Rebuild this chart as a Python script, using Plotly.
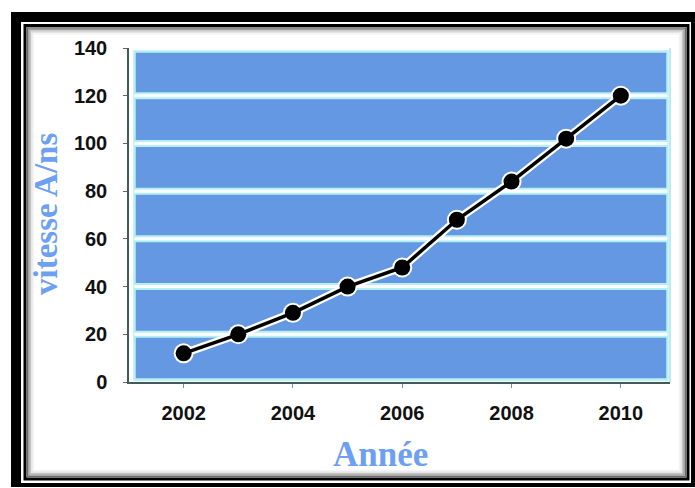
import plotly.graph_objects as go

# Data
years = [2002, 2003, 2004, 2005, 2006, 2007, 2008, 2009, 2010]
speed = [12, 20, 29, 40, 48, 68, 84, 102, 120]
x_ticks = [2002, 2004, 2006, 2008, 2010]
y_ticks = [0, 20, 40, 60, 80, 100, 120, 140]

W, H = 695, 488
ML, MR, MT, MB = 129, 25, 48, 106
PW, PH = W - ML - MR, H - MT - MB

BLUE = "#6598e2"
CYAN = "#b4f0f0"
TITLE_BLUE = "#6d9ff2"


def px(x):
    return (x - ML) / PW


def py(y):
    return (H - MB - y) / PH


shapes = []

# Picture frame: thick black outer border, thin inner line and soft inner shadow
shapes.append(dict(type="rect", xref="paper", yref="paper", layer="below",
                   x0=px(11), x1=px(705), y0=py(12), y1=py(487),
                   fillcolor="black", line=dict(width=0)))
shapes.append(dict(type="rect", xref="paper", yref="paper", layer="below",
                   x0=px(21), x1=px(691), y0=py(22), y1=py(483),
                   fillcolor="white", line=dict(width=0)))
shapes.append(dict(type="rect", xref="paper", yref="paper", layer="below",
                   x0=px(25), x1=px(688), y0=py(25.5), y1=py(479),
                   fillcolor="white", line=dict(color="black", width=3)))
for off, col in [(2.5, "#6a6a6a"), (4, "#9a9a9a"), (5.5, "#c4c4c4"), (7, "#e4e4e4"), (8.5, "#f4f4f4")]:
    shapes.append(dict(type="rect", xref="paper", yref="paper", layer="below",
                       x0=px(25 + off), x1=px(688 - off), y0=py(25.5 + off), y1=py(479 - off),
                       line=dict(color=col, width=1.6)))

# Blue plotting panel inset within the axes
bx0, bx1, by0, by1 = px(134.5), px(667.5), py(379.5), py(51.5)
shapes.append(dict(type="rect", xref="paper", yref="paper", layer="below",
                   x0=bx0, x1=bx1, y0=by0, y1=by1,
                   fillcolor=BLUE, line=dict(color=CYAN, width=2.5)))
# right-hand axis edge
shapes.append(dict(type="line", xref="paper", yref="paper", layer="below",
                   x0=1, x1=1, y0=0, y1=1, line=dict(color="#a8e4e4", width=1.5)))

# Horizontal grid bands: white line with cyan edges
for v in y_ticks[1:-1]:
    shapes.append(dict(type="line", xref="paper", yref="y", layer="below",
                       x0=bx0, x1=bx1, y0=v, y1=v, line=dict(color=CYAN, width=7)))
    shapes.append(dict(type="line", xref="paper", yref="y", layer="below",
                       x0=bx0, x1=bx1, y0=v, y1=v, line=dict(color="white", width=3)))

fig = go.Figure()

# White halo under the series
fig.add_trace(go.Scatter(
    x=years, y=speed, mode="lines+markers",
    line=dict(color="white", width=8),
    marker=dict(color="white", size=20),
    hoverinfo="skip", showlegend=False,
))
fig.add_trace(go.Scatter(
    x=years, y=speed, mode="lines+markers",
    line=dict(color="black", width=3.5),
    marker=dict(color="black", size=16),
    showlegend=False,
))

tick_font = dict(family="Liberation Sans, Arial, sans-serif", size=20, color="#111111", weight="bold")

fig.update_layout(
    width=W, height=H,
    margin=dict(l=ML, r=MR, t=MT, b=MB),
    paper_bgcolor="white",
    plot_bgcolor="rgba(0,0,0,0)",
    shapes=shapes,
    xaxis=dict(
        range=[2001.0, 2010.9],
        tickvals=x_ticks, ticktext=[str(v) for v in x_ticks],
        showgrid=False, zeroline=False,
        showline=True, linecolor="#3f5c5c", linewidth=1.5,
        ticks="outside", ticklen=4, tickcolor="#6a9a9a",
        tickfont=tick_font, ticklabelstandoff=8,
    ),
    yaxis=dict(
        range=[0, 140],
        tickvals=y_ticks,
        showgrid=False, zeroline=False,
        showline=True, linecolor="#3f5c5c", linewidth=1.5,
        ticks="outside", ticklen=4, tickcolor="#8a5050",
        tickfont=tick_font, ticklabelstandoff=12,
    ),
    annotations=[
        dict(text="vitesse A/ns", xref="paper", yref="paper",
             x=px(46), y=py(214), xanchor="center", yanchor="middle",
             textangle=-90, showarrow=False,
             font=dict(family="Liberation Serif, Times New Roman, serif", size=33,
                       color=TITLE_BLUE, weight="bold")),
        dict(text="Année", xref="paper", yref="paper",
             x=px(380), y=py(455), xanchor="center", yanchor="middle",
             showarrow=False,
             font=dict(family="Liberation Serif, Times New Roman, serif", size=35,
                       color=TITLE_BLUE, weight="bold")),
    ],
)

fig.write_html("out.html")
